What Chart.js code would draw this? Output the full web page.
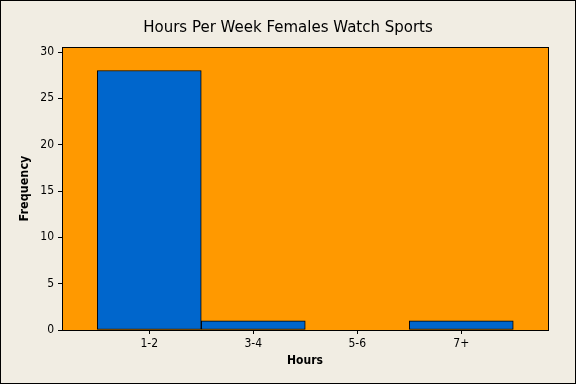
<!DOCTYPE html>
<html>
<head>
<meta charset="utf-8">
<script src="https://cdn.jsdelivr.net/npm/chart.js@4/dist/chart.umd.min.js"></script>
<style>
  html, body { margin: 0; padding: 0; background: #f1ede3; }
  #wrap { width: 576px; height: 384px; }
</style>
</head>
<body>
<div id="wrap"><canvas id="histCanvas" width="576" height="384"></canvas></div>
<script>
/* ============================ Data ============================ */
const categories = ["1-2", "3-4", "5-6", "7+"];
const frequency = [28, 1, 0, 1];
const yTicks = [0, 5, 10, 15, 20, 25, 30];

/* ============================ Styles ============================ */
const FONT = '"DejaVu Sans Condensed", "DejaVu Sans", sans-serif';
const TITLE_FONT = '"DejaVu Sans", sans-serif';
const PAGE_BG = "#f1ede3";
const PLOT_BG = "#ff9900";
const BAR_FILL = "#0066cc";

/* ============================ Plugins ============================ */
const frameBg = {
    id: "frameBg",
    beforeDraw(chart) {
        const ctx = chart.ctx;
        const a = chart.chartArea;
        ctx.save();
        ctx.fillStyle = PAGE_BG;
        ctx.fillRect(0, 0, chart.width, chart.height);
        ctx.fillStyle = PLOT_BG;
        ctx.fillRect(a.left, a.top, a.right - a.left, a.bottom - a.top);
        ctx.restore();
    },
    afterDraw(chart) {
        const ctx = chart.ctx;
        const a = chart.chartArea;
        ctx.save();
        ctx.strokeStyle = "#000";
        ctx.lineWidth = 1;
        ctx.strokeRect(a.left + 0.5, a.top + 0.5, a.right - a.left, a.bottom - a.top);
        ctx.strokeRect(0.5, 0.5, chart.width - 1, chart.height - 1);
        ctx.restore();
    }
};

/* ============================ Chart ============================ */
const points = categories.map((c, i) => ({ x: i, y: frequency[i] }));

new Chart(document.getElementById("histCanvas"), {
    type: "bar",
    data: {
        datasets: [{
            data: points,
            backgroundColor: BAR_FILL,
            borderColor: "#000",
            borderWidth: 1,
            borderSkipped: false,
            barPercentage: 1,
            categoryPercentage: 1
        }]
    },
    options: {
        responsive: false,
        animation: false,
        layout: { padding: 0 },
        plugins: {
            legend: { display: false },
            tooltip: { enabled: false },
            title: {
                display: true,
                text: "Hours Per Week Females Watch Sports",
                color: "#000",
                font: { family: TITLE_FONT, size: 15, weight: "normal" },
                padding: { top: 19, bottom: 10 }
            }
        },
        scales: {
            x: {
                type: "linear",
                min: -0.839,
                max: 3.834,
                offset: false,
                afterBuildTicks: s => { s.ticks = categories.map((c, i) => ({ value: i })); },
                afterFit: s => { s.height = 54; s.paddingLeft = 0; s.paddingRight = 0; },
                ticks: {
                    color: "#000",
                    font: { family: FONT, size: 12 },
                    padding: 3,
                    maxRotation: 0,
                    callback: v => categories[v]
                },
                grid: { drawOnChartArea: false, offset: false, color: "#000", tickLength: 4 },
                border: { color: "#000" },
                title: {
                    display: true,
                    text: "Hours",
                    color: "#000",
                    font: { family: FONT, size: 12, weight: "bold" },
                    padding: { top: 0, bottom: 16 }
                }
            },
            y: {
                min: 0,
                max: 30.54,
                afterBuildTicks: s => { s.ticks = yTicks.map(v => ({ value: v })); },
                afterFit: s => { s.width = 62; s.paddingTop = 0; s.paddingBottom = 0; },
                ticks: {
                    color: "#000",
                    font: { family: FONT, size: 12 },
                    padding: 4
                },
                grid: { drawOnChartArea: false, color: "#000", tickLength: 4 },
                border: { color: "#000" },
                title: {
                    display: true,
                    text: "Frequency",
                    color: "#000",
                    font: { family: FONT, size: 12.5, weight: "bold" },
                    padding: { top: 17, bottom: 0 }
                }
            },
            // empty right-hand margin so the title stays centred on the page
            yRight: {
                position: "right",
                min: 0,
                max: 30.54,
                afterFit: s => { s.width = 28; s.paddingTop = 0; s.paddingBottom = 0; },
                ticks: { display: false },
                grid: { display: false },
                border: { display: false }
            }
        }
    },
    plugins: [frameBg]
});
</script>
</body>
</html>
